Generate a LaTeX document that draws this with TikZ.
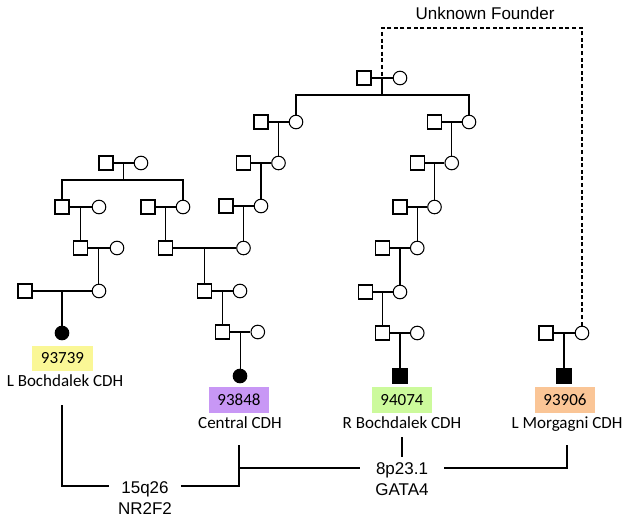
\documentclass[tikz,border=0pt]{standalone}
\usepackage{fontspec}
\setmainfont{Carlito}
\newfontfamily\arialf{Liberation Sans}
\usetikzlibrary{calc}
\definecolor{cyel}{HTML}{FAF796}
\definecolor{cpur}{HTML}{C897F5}
\definecolor{cgrn}{HTML}{CCFA9C}
\definecolor{corg}{HTML}{FAC596}
\begin{document}
\begin{tikzpicture}[x=1pt,y=-1pt,line width=1.05pt,
  sq/.style={draw,fill=white,rectangle,minimum size=14pt,inner sep=0pt},
  ci/.style={draw,fill=white,circle,minimum size=13.6pt,inner sep=0pt},
  asq/.style={sq,fill=black},
  aci/.style={ci,fill=black},
  idbox/.style={rectangle,minimum width=60pt,minimum height=26pt,inner sep=0pt,font=\fontsize{17}{20}\selectfont},
  dxlab/.style={inner sep=0pt,text height=11pt,text depth=0pt,font=\fontsize{17}{20}\selectfont},
  gene/.style={inner sep=0pt,align=center,font=\arialf\fontsize{17}{21}\selectfont},
  fnd/.style={dash pattern=on 4pt off 2.6pt}]
\useasboundingbox (0,0) rectangle (629,523);

% ---------- top founder couple ----------
\node[sq] (t1) at (364,78) {};
\node[ci] (t2) at (400,78) {};
\draw (t1) -- (t2);
\coordinate (tm) at ($(t1)!0.5!(t2)$);
\coordinate (tsib) at (382,95);
\draw (tm) -- (tsib);

% ---------- middle chain ----------
\node[sq] (m1a) at (261,122) {};
\node[ci] (m1b) at (296,122) {};
\node[sq] (m2a) at (243.5,163) {};
\node[ci] (m2b) at (278.5,163) {};
\node[sq] (m3a) at (226,206) {};
\node[ci] (m3b) at (261,206) {};
\node[ci] (m4b) at (243.5,248) {};
\node[sq] (m5a) at (204.5,291) {};
\node[ci] (m5b) at (240,291) {};
\node[sq] (m6a) at (222.3,332) {};
\node[ci] (m6b) at (257.8,332) {};
\node[aci] (m7) at (240,376) {};

% ---------- right chain ----------
\node[sq] (r1a) at (434.5,122) {};
\node[ci] (r1b) at (469,122) {};
\node[sq] (r2a) at (417.25,163) {};
\node[ci] (r2b) at (451.75,163) {};
\node[sq] (r3a) at (400,207) {};
\node[ci] (r3b) at (434.5,207) {};
\node[sq] (r4a) at (382.75,248) {};
\node[ci] (r4b) at (417.25,248) {};
\node[sq] (r5a) at (365.5,292) {};
\node[ci] (r5b) at (400,292) {};
\node[sq] (r6a) at (382.75,333) {};
\node[ci] (r6b) at (417.25,333) {};
\node[asq] (r7) at (400,376) {};

% ---------- left family ----------
\node[sq] (l0a) at (106,163) {};
\node[ci] (l0b) at (141,163) {};
\node[sq] (l1a) at (62,207) {};
\node[ci] (l1b) at (99,207) {};
\node[sq] (l1c) at (148,207) {};
\node[ci] (l1d) at (183,207) {};
\node[sq] (l2a) at (80.5,248) {};
\node[ci] (l2b) at (117,248) {};
\node[sq] (l2c) at (165.5,248) {};
\node[sq] (l3a) at (25,291) {};
\node[ci] (l3b) at (99,291) {};
\node[aci] (l4) at (62,333) {};

% ---------- Morgagni family ----------
\node[sq] (g1a) at (546,333) {};
\node[ci] (g1b) at (582,333) {};
\node[asq] (g2) at (564,376) {};

% ---------- sibship from top ----------
\draw (m1b.north) |- (tsib) -| (r1b.north);

% ---------- matings and descents ----------
\foreach \a/\b/\c in {m1a/m1b/m2b, m2a/m2b/m3b, m3a/m3b/m4b, l2c/m4b/m5a, m5a/m5b/m6a, m6a/m6b/m7,
                      r1a/r1b/r2b, r2a/r2b/r3b, r3a/r3b/r4b, r4a/r4b/r5b, r5a/r5b/r6a, r6a/r6b/r7,
                      l1a/l1b/l2a, l1c/l1d/l2c, l2a/l2b/l3b, l3a/l3b/l4, g1a/g1b/g2}{
  \draw (\a) -- (\b);
  \coordinate (mid) at ($(\a)!0.5!(\b)$);
  \draw (mid) -- (mid |- \c.north);
}
\draw (l0a) -- (l0b);
\coordinate (l0m) at ($(l0a)!0.5!(l0b)$);
\coordinate (lsib) at (123.5,180);
\draw (l0m) -- (lsib);
\draw (l1a.north) |- (lsib) -| (l1d.north);

% ---------- unknown founder ----------
\node[inner sep=0pt,font=\arialf\fontsize{17}{20}\selectfont] (uf) at (485,13) {Unknown Founder};
\coordinate (ftop) at (480,28);
\draw[fnd] (g1b.north) |- (ftop) -| (tm);

% ---------- ID boxes and diagnoses ----------
\node[idbox,fill=cyel,minimum height=25pt,minimum width=61pt] (id1) at (62.5,358.5) {93739};
\node[dxlab] (dx1) at (65,381) {L Bochdalek CDH};
\node[idbox,fill=cpur] (id2) at (239,400) {93848};
\node[dxlab] (dx2) at (240,422.5) {Central CDH};
\node[idbox,fill=cgrn] (id3) at (402,400) {94074};
\node[dxlab] (dx3) at (402,422.5) {R Bochdalek CDH};
\node[idbox,fill=corg] (id4) at (565,400) {93906};
\node[dxlab] (dx4) at (567,422.5) {L Morgagni CDH};

% ---------- genes ----------
\node[gene,outer xsep=9pt] (g15) at (145,498.5) {15q26\\NR2F2};
\node[gene,outer xsep=15.5pt,outer ysep=6pt] (g8) at (402,479.5) {8p23.1\\GATA4};

\coordinate (c1) at (62,405);
\coordinate (c2) at (239,445);
\coordinate (c3) at (402,437);
\coordinate (c4) at (567,445);
\draw (c1) |- ([yshift=12.5pt]g15.west);
\draw ([yshift=12.5pt]g15.east) -| (c2);
\draw ([yshift=11.5pt]g8.west) -- ([yshift=11.5pt]g8.west -| c2);
\draw (c3) -- (g8.north);
\draw ([yshift=11.5pt]g8.east) -| (c4);
\end{tikzpicture}
\end{document}
